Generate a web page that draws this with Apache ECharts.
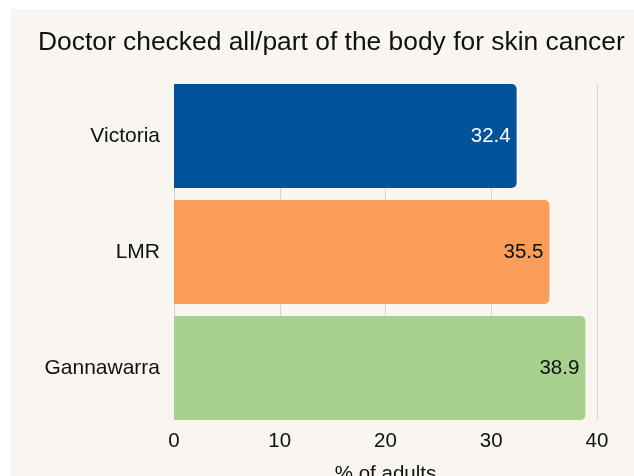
<!DOCTYPE html>
<html><head><meta charset="utf-8">
<script src="https://cdn.jsdelivr.net/npm/echarts@6/dist/echarts.min.js"></script>
<style>
html,body{margin:0;padding:0;background:#ffffff;}
#bg{position:absolute;left:11px;top:9px;width:623px;height:467px;background:#f9f6f1;}
#chart{position:absolute;left:0;top:0;width:634px;height:476px;}
</style></head>
<body>
<div id="bg"></div>
<div id="chart"></div>
<script>
const categories = ["Victoria", "LMR", "Gannawarra"];
const values = [32.4, 35.5, 38.9];
const barColors = ["#00539b", "#f99d58", "#a9d18e"];
const labelColors = ["#ffffff", "#111111", "#111111"];
const titleText = "Doctor checked all/part of the body for skin cancer";
const axisName = "% of adults";
const xMin = 0, xMax = 40, xStep = 10;

const FONT = 'Liberation Sans, Arial, sans-serif';
const chart = echarts.init(document.getElementById('chart'));
chart.setOption({
  backgroundColor: 'transparent',
  animation: false,
  title: {
    text: titleText,
    left: 33, top: 25,
    textStyle: {fontFamily: FONT, fontSize: 26.4, fontWeight: 'normal', color: '#111111'}
  },
  grid: [
    {left: 174, right: 37, top: 78, bottom: 50, containLabel: false, outerBoundsMode: 'none'},
    {left: 174, right: 37, top: 84, bottom: 56, containLabel: false, outerBoundsMode: 'none'}
  ],
  xAxis: [
    {
      gridIndex: 0, type: 'value', min: xMin, max: xMax, interval: xStep,
      axisLine: {show: false}, axisTick: {show: false}, axisLabel: {show: false},
      splitLine: {show: false}
    },
    {
      gridIndex: 1, type: 'value', min: xMin, max: xMax, interval: xStep,
      name: axisName, nameLocation: 'middle', nameGap: 44, nameMoveOverlap: false,
      nameTextStyle: {fontFamily: FONT, fontSize: 20.5, color: '#111111'},
      axisLine: {show: false}, axisTick: {show: false},
      axisLabel: {fontFamily: FONT, fontSize: 20.5, color: '#111111', margin: 11},
      splitLine: {show: true, lineStyle: {color: '#d6d3cf', width: 1}}
    }
  ],
  yAxis: [
    {
      gridIndex: 0, type: 'category', data: categories, inverse: true,
      axisLine: {show: false}, axisTick: {show: false},
      axisLabel: {fontFamily: FONT, fontSize: 21, color: '#111111', margin: 14}
    },
    {
      gridIndex: 1, type: 'category', data: categories, inverse: true, show: false
    }
  ],
  series: [{
    type: 'bar',
    xAxisIndex: 0, yAxisIndex: 0,
    barCategoryGap: '10.3%',
    z: 3,
    data: values.map((v, i) => ({
      value: v,
      itemStyle: {color: barColors[i], borderRadius: [0, 5, 5, 0]},
      label: {color: labelColors[i]}
    })),
    label: {
      show: true, position: 'insideRight', distance: 6,
      fontFamily: FONT, fontSize: 20.5,
      formatter: p => p.value.toFixed(1)
    }
  }]
});
</script>
</body></html>
